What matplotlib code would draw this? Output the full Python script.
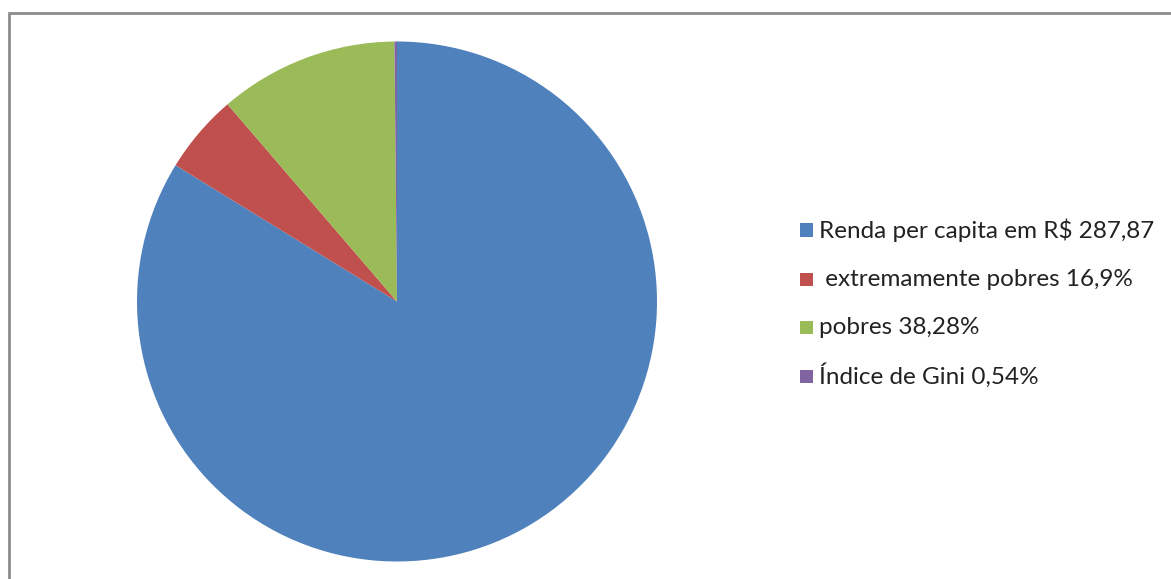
import matplotlib.pyplot as plt
from matplotlib.patches import Rectangle

# data
labels = ['Renda per capita em R$ 287,87', ' extremamente pobres 16,9%',
          'pobres 38,28%', 'Índice de Gini 0,54%']
values = [287.87, 16.9, 38.28, 0.54]
colors = ['#4F81BD', '#C0504D', '#9BBB59', '#8064A2']

W, H = 1171, 579
fig = plt.figure(figsize=(W / 100, H / 100), dpi=100)
plt.rcParams['font.family'] = ['Lato', 'DejaVu Sans']

# chart border (runs off the right and bottom edge)
fig.patches.append(Rectangle((9 / W, -0.05), 1.2, 1 - 13 / H + 0.05,
                             transform=fig.transFigure, fill=False,
                             edgecolor='#8c8c8c', linewidth=2))

# pie, center at (397, 301.5) px, radius 260 px
cx, cy, r = 397, 301.5, 260
ax = fig.add_axes([(cx - r) / W, (H - cy - r) / H, 2 * r / W, 2 * r / H])
ax.pie(values, colors=colors, startangle=90, counterclock=False, radius=1,
       wedgeprops=dict(linewidth=0))
ax.set_xlim(-1, 1)
ax.set_ylim(-1, 1)
ax.set_aspect('auto')
ax.axis('off')

# legend
rows = [230, 279, 327, 376]
for lab, col, y in zip(labels, colors, rows):
    fig.patches.append(Rectangle((800 / W, (H - y - 6.5) / H), 13 / W, 13 / H,
                                 transform=fig.transFigure, facecolor=col,
                                 edgecolor='none'))
    fig.text(819 / W, (H - y) / H, lab, fontsize=17.5, color='#222222',
             va='center', ha='left')

fig.savefig('out.png', dpi=100)
